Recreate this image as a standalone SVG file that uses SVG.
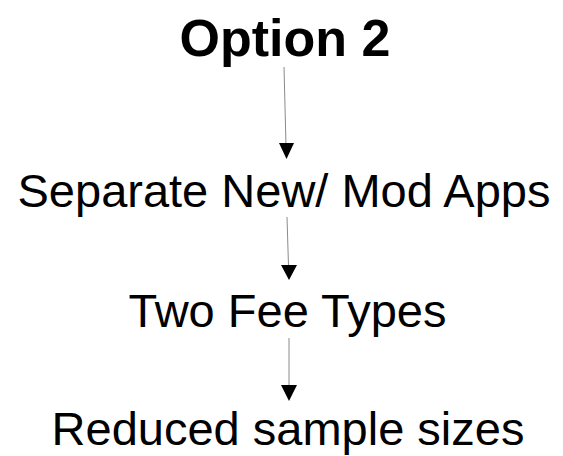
<svg xmlns="http://www.w3.org/2000/svg" width="563" height="456" viewBox="0 0 563 456">
<style>
text{font-family:"Liberation Sans",Arial,sans-serif;fill:#000;text-anchor:middle}
.t{font-size:47px}
.h{font-size:52px;font-weight:bold}
.c{stroke:#8a8a8a;stroke-width:1;fill:none}
.a{fill:#000}
</style>
<rect width="563" height="456" fill="#fff"/>
<g id="connectors">
<path class="c" d="M284,67 L286,146"/>
<path class="a" d="M279,143 L294,143 L286.5,159 Z"/>
<path class="c" d="M287,217 L288.5,266"/>
<path class="a" d="M281,265 L297,265 L289,280 Z"/>
<path class="c" d="M289,338 L289,386"/>
<path class="a" d="M281,385 L297,385 L289,401 Z"/>
</g>
<g id="option2"><text class="h" x="285" y="56">Option 2</text></g>
<g id="separate"><text class="t" x="284" y="207">Separate New/ Mod Apps</text></g>
<g id="twofee"><text class="t" x="287.5" y="327">Two Fee Types</text></g>
<g id="reduced"><text class="t" x="288" y="445">Reduced sample sizes</text></g>
</svg>
